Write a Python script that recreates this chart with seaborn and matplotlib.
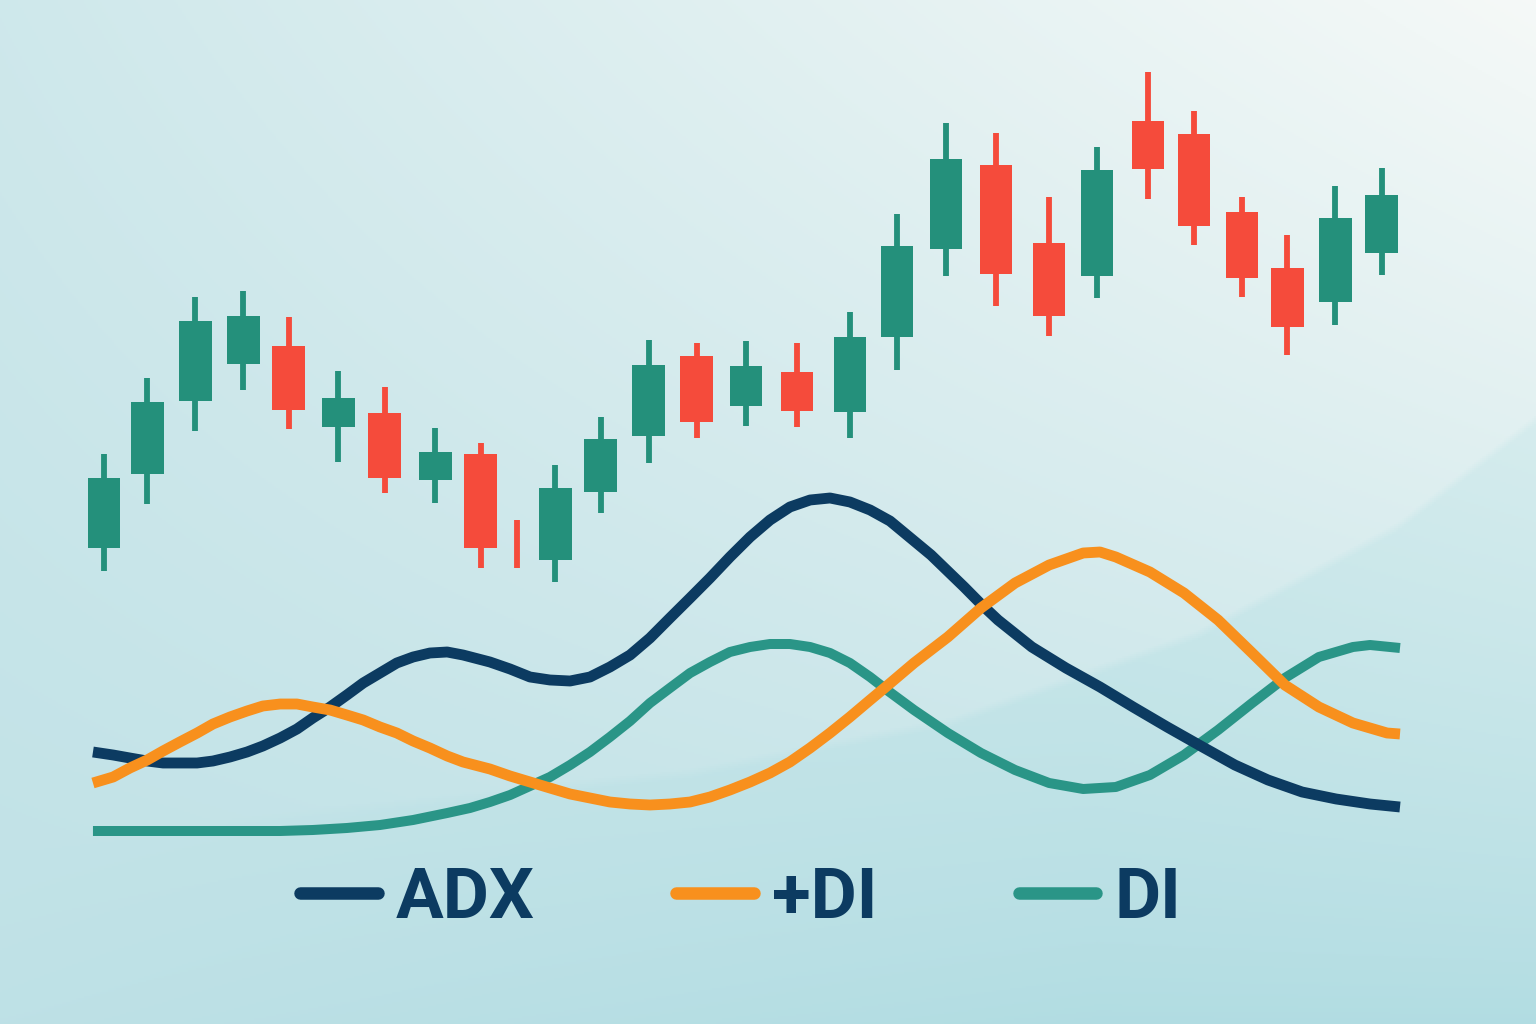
import numpy as np
import matplotlib
matplotlib.use("Agg")
import matplotlib.pyplot as plt
import seaborn as sns

# candle positions (trading-day units) and OHLC prices
day = [0, 0.90, 1.90, 2.90, 3.85, 4.88, 5.85, 6.90, 7.85, 8.60,
       9.40, 10.35, 11.35, 12.35, 13.375, 14.44, 15.54, 16.52, 17.54, 18.58,
       19.69, 20.69, 21.75, 22.71, 23.71, 24.65, 25.65, 26.62]
open_ = [59.5, 68.8, 77.9, 82.5, 84.8, 74.6, 76.4, 68.0, 71.3, 59.0,
         58.0, 66.5, 73.5, 83.5, 77.3, 81.5, 76.5, 85.9, 96.9, 107.4,
         97.6, 93.5, 112.9, 111.3, 101.5, 94.5, 90.3, 96.4]
high = [71.3, 80.8, 90.9, 91.6, 88.4, 81.6, 79.6, 74.5, 72.6, 63.0,
        69.9, 75.9, 85.5, 85.1, 85.4, 85.1, 89.0, 101.3, 112.6, 111.4,
        103.4, 109.6, 119.0, 114.1, 103.4, 98.6, 104.8, 107.0]
low = [56.6, 65.0, 74.1, 79.3, 74.4, 70.3, 66.4, 65.1, 57.0, 57.0,
       55.3, 63.9, 70.1, 73.3, 74.8, 74.6, 73.3, 81.8, 93.5, 89.8,
       86.0, 90.8, 103.1, 97.4, 90.9, 83.6, 87.4, 93.6]
close = [68.3, 77.8, 87.9, 88.5, 76.8, 78.3, 68.3, 71.5, 59.5, 59.0,
         67.0, 73.1, 82.4, 75.3, 82.3, 76.6, 85.9, 97.3, 108.1, 93.8,
         88.5, 106.8, 106.9, 99.8, 93.3, 87.1, 100.8, 103.6]

# ADX
adx_x = [-0.23, 0.19, 0.54, 0.90, 1.23, 1.58, 1.94, 2.27, 2.625, 2.98,
         3.31, 3.67, 4.02, 4.35, 4.71, 5.06, 5.40, 5.75, 6.10, 6.44,
         6.79, 7.15, 7.48, 8.04, 8.46, 8.875, 9.29, 9.71, 10.125, 10.54,
         10.96, 11.375, 11.79, 12.21, 12.625, 13.04, 13.46, 13.875, 14.29, 14.71,
         15.125, 15.54, 15.96, 16.375, 17.23, 17.92, 18.27, 18.625, 19.33, 20.04,
         20.75, 21.44, 22.15, 22.85, 23.56, 24.25, 24.96, 25.67, 26.375, 27.0]
adx = [14.8, 14.5, 14.2, 13.9, 13.7, 13.7, 13.7, 13.9, 14.3, 14.8,
       15.4, 16.2, 17.1, 18.2, 19.3, 20.5, 21.7, 22.7, 23.7, 24.3,
       24.7, 24.8, 24.5, 23.8, 23.1, 22.3, 22.0, 21.9, 22.3, 23.3,
       24.5, 26.2, 28.2, 30.2, 32.2, 34.3, 36.3, 38.0, 39.3, 40.0,
       40.2, 39.8, 39.0, 37.9, 34.5, 31.3, 29.6, 28.0, 25.3, 23.2,
       21.3, 19.3, 17.3, 15.4, 13.5, 12.0, 10.8, 10.1, 9.6, 9.3]

# +DI
pdi_x = [-0.23, 0.19, 0.54, 0.90, 1.23, 1.58, 1.94, 2.27, 2.625, 2.98,
         3.31, 3.67, 4.02, 4.35, 4.71, 5.06, 5.40, 5.75, 6.10, 6.44,
         6.79, 7.15, 7.48, 8.04, 8.46, 8.875, 9.29, 9.71, 10.125, 10.54,
         10.96, 11.375, 11.79, 12.21, 12.625, 13.04, 13.46, 13.875, 14.29, 14.71,
         15.125, 15.54, 15.96, 16.31, 16.875, 17.58, 18.27, 18.98, 19.69, 20.40,
         20.75, 21.08, 21.79, 22.5, 23.21, 23.92, 24.60, 25.31, 26.02, 26.73, 27.0]
pdi = [11.7, 12.3, 13.2, 14.0, 14.9, 15.8, 16.7, 17.6, 18.3, 18.9,
       19.4, 19.6, 19.6, 19.3, 19.0, 18.5, 18.0, 17.3, 16.7, 15.9,
       15.2, 14.4, 13.8, 13.1, 12.4, 11.8, 11.2, 10.6, 10.2, 9.8,
       9.6, 9.5, 9.6, 9.8, 10.3, 11.0, 11.8, 12.7, 13.8, 15.2,
       16.7, 18.3, 20.0, 21.4, 23.7, 26.3, 29.2, 31.7, 33.5, 34.7,
       34.8, 34.3, 32.8, 30.7, 28.0, 24.7, 21.5, 19.3, 17.7, 16.7, 16.6]

# DI
mdi_x = [-0.23, 3.67, 4.35, 5.06, 5.75, 6.44, 7.15, 7.625, 8.04, 8.46,
         8.875, 9.29, 9.71, 10.125, 10.54, 10.96, 11.375, 11.79, 12.21, 12.625,
         13.04, 13.46, 13.875, 14.29, 14.71, 15.125, 15.54, 15.96, 16.31, 16.875,
         17.58, 18.27, 18.98, 19.69, 20.40, 21.08, 21.79, 22.5, 23.21, 23.92,
         24.60, 25.31, 26.02, 26.375, 27.0]
mdi = [6.9, 6.9, 7.0, 7.2, 7.5, 8.0, 8.7, 9.2, 9.8, 10.5,
       11.4, 12.3, 13.5, 14.8, 16.3, 17.9, 19.7, 21.2, 22.7, 23.8,
       24.8, 25.3, 25.6, 25.6, 25.3, 24.7, 23.7, 22.3, 21.0, 19.0,
       16.7, 14.7, 13.0, 11.7, 11.1, 11.3, 12.5, 14.5, 17.0, 19.7,
       22.2, 24.3, 25.3, 25.5, 25.2]

GREEN = "#24907b"
RED = "#f54b3b"
NAVY = "#0c3b61"
ORANGE = "#f8901d"
TEAL = "#2a9587"

sns.set_theme(style="white")
plt.rcParams["font.family"] = ["Roboto", "DejaVu Sans"]

fig = plt.figure(figsize=(15.36, 10.24), dpi=100)
ax = fig.add_axes([0, 0, 1, 1])
xlim = (-104 / 48, (1536 - 104) / 48)
ax.set_xlim(xlim)
ax.set_ylim(0, 128)

# background gradient with a soft darker band in the lower right
H, W = 512, 768
yy, xx = np.mgrid[0:1:H * 1j, 0:1:W * 1j]
L = (1 - yy) ** 0.8 * (0.3 + 0.7 * xx)
dark = np.array([0.745, 0.882, 0.902])
light = np.array([0.962, 0.976, 0.970])
img = dark + (light - dark) * L[..., None]
bx = np.array([0, 0.2, 0.45, 0.62, 0.78, 0.91, 1.0])
by = np.array([0.83, 0.79, 0.75, 0.70, 0.615, 0.51, 0.405])
edge = np.interp(xx, bx, by)
shade = np.clip((yy - edge) / 0.01, 0, 1) * 0.05 * np.clip(xx * 1.4, 0, 1)
img = img - shade[..., None] * np.array([1.0, 0.35, 0.3])
ax.imshow(np.clip(img, 0, 1), extent=[xlim[0], xlim[1], 0, 128],
          aspect="auto", zorder=0, origin="upper")

# candles (a flat open/close counts as a down candle)
colors = [GREEN if c > o else RED for o, c in zip(open_, close)]
ax.vlines(day, low, high, colors=colors, lw=4.2, zorder=2)
ax.bar(day, np.array(close) - np.array(open_), bottom=open_, width=0.68,
       color=colors, zorder=3, linewidth=0)
ax.axis("off")

# indicator panel
ax2 = ax.twinx()
ax2.set_ylim(-12.4, 90)
sns.lineplot(x=adx_x, y=adx, ax=ax2, color=NAVY, lw=7.8, sort=False,
             label="ADX", zorder=4)
sns.lineplot(x=pdi_x, y=pdi, ax=ax2, color=ORANGE, lw=7.8, sort=False,
             label="+DI", zorder=4)
sns.lineplot(x=mdi_x, y=mdi, ax=ax2, color=TEAL, lw=7.2, sort=False,
             label="DI", zorder=3)
for ln in ax2.lines:
    ln.set_solid_capstyle("butt")
    ln.set_solid_joinstyle("round")
ax2.set_xlim(xlim)
ax2.axis("off")

handles, labels = ax2.get_legend_handles_labels()
ax2.get_legend().remove()
leg = fig.legend(handles, labels, loc="center", bbox_to_anchor=(0.482, 0.123),
                 ncol=3, frameon=False, handlelength=1.1, handletextpad=0.25,
                 columnspacing=2.0, labelcolor=NAVY,
                 prop={"family": ["Roboto", "DejaVu Sans"],
                       "weight": "bold", "size": 51})
for h in leg.legend_handles:
    h.set_linewidth(9)
    h.set_solid_capstyle("round")

fig.savefig("out.png", dpi=100)
